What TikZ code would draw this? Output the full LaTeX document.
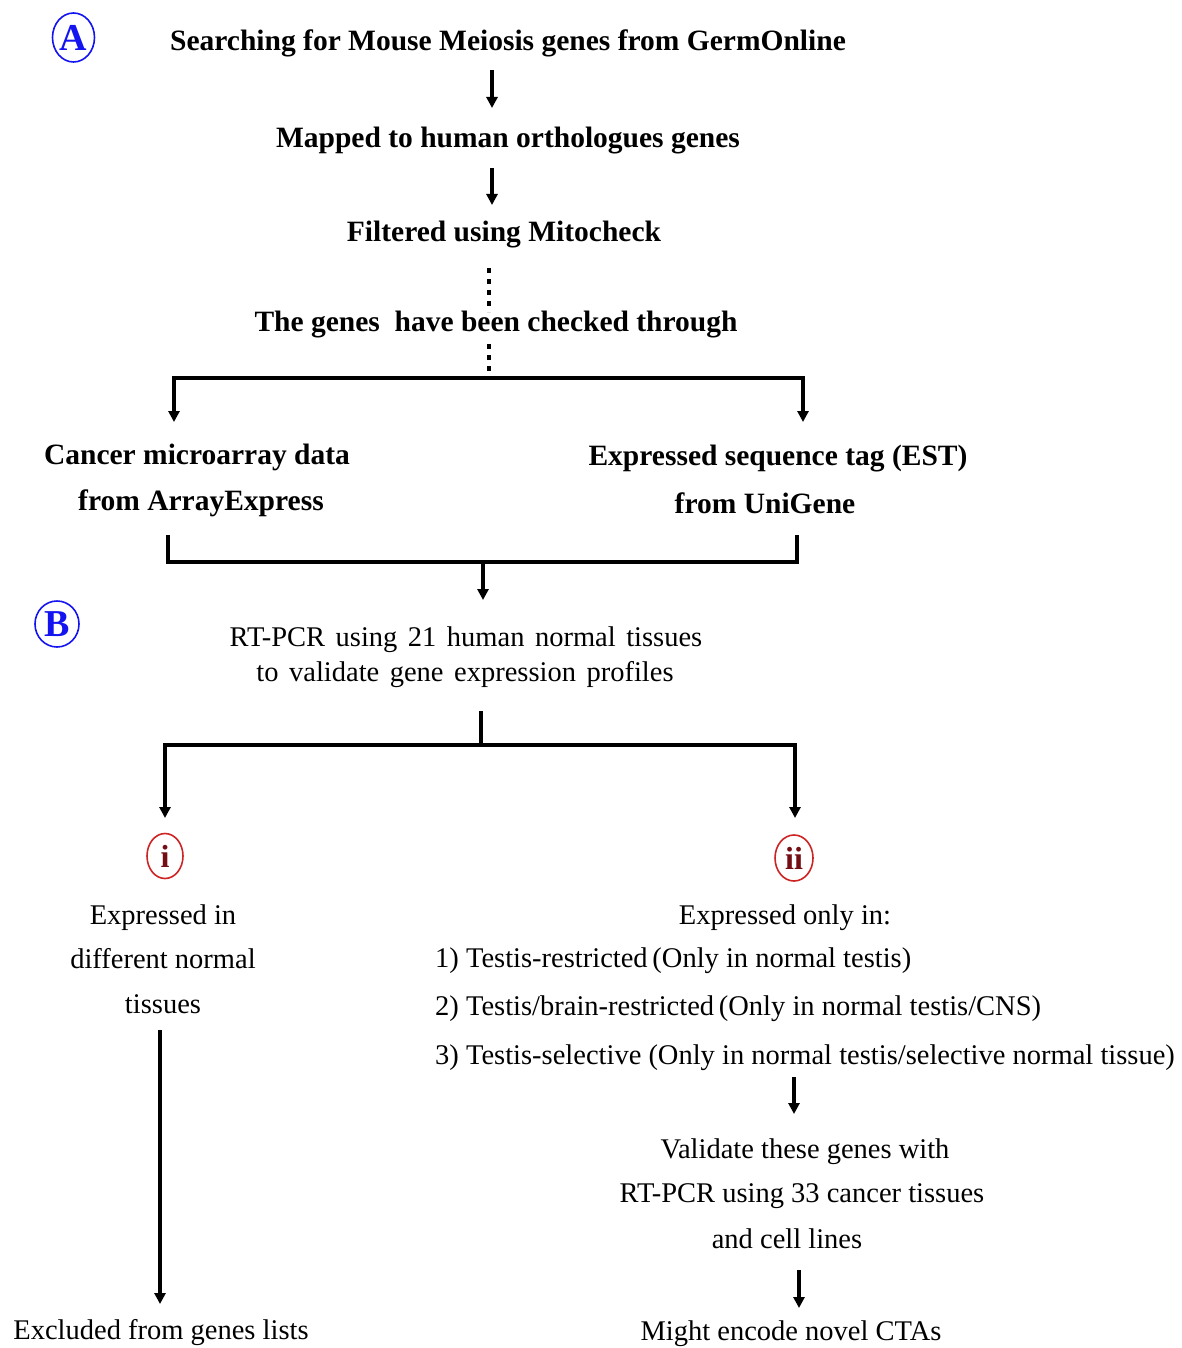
\documentclass[tikz,border=0pt]{standalone}
\usepackage{fontspec}
\setmainfont{Liberation Serif}
\usetikzlibrary{arrows.meta,shapes.geometric}
\definecolor{markblue}{RGB}{20,20,240}
\definecolor{markred}{RGB}{205,35,35}
\definecolor{markdark}{RGB}{115,15,20}
\newcommand{\widewords}{\spaceskip=10.5pt\relax}
\tikzset{
  bt/.style={font=\fontsize{29.5}{34}\selectfont\bfseries, inner sep=0pt, anchor=base},
  rt/.style={font=\fontsize{28.5}{34}\selectfont, inner sep=0pt, anchor=base},
  arr/.style={line width=3.3pt, -{Triangle[length=11pt,width=11pt]}},
  brk/.style={line width=4pt},
  dots/.style={line width=3.6pt, dash pattern=on 5pt off 6pt},
  letterA/.style={draw=markblue, line width=1.6pt, ellipse, text=markblue, font=\fontsize{38}{38}\selectfont\bfseries, inner sep=0pt, minimum width=42pt, minimum height=49pt},
  letteri/.style={draw=markred, line width=1.6pt, ellipse, text=markdark, font=\fontsize{32}{32}\selectfont\bfseries, inner sep=0pt, minimum width=36pt, minimum height=45pt},
}
\begin{document}
\begin{tikzpicture}[x=1pt,y=-1pt]
\useasboundingbox (0,0) rectangle (1182,1348);

% ---- Part A: selection of candidate genes ----
\node[letterA] (markA) at (73.5,37.5) {A};
\node[bt] (s1) at (508,51) {Searching for Mouse Meiosis genes from GermOnline};
\node[bt] (s2) at (508,148) {Mapped to human orthologues genes};
\node[bt] (s3) at (504,242) {Filtered using Mitocheck};
\node[bt] (s4) at (496,331) {The genes\ \ have been checked through};
\node[bt] (c1) at (197,464) {Cancer microarray data};
\node[bt] (c2) at (201,510) {from ArrayExpress};
\node[bt] (e1) at (778,465) {Expressed sequence tag (EST)};
\node[bt] (e2) at (765,513) {from UniGene};

\coordinate (a1s) at (492,70);  \coordinate (a1e) at (492,108);
\coordinate (a2s) at (492,168); \coordinate (a2e) at (492,205);
\draw[arr] (a1s) -- (a1e);
\draw[arr] (a2s) -- (a2e);

\coordinate (d1s) at (489,268); \coordinate (d1e) at (489,312);
\coordinate (d2s) at (489,344); \coordinate (d2e) at (489,378);
\draw[dots] (d1s) -- (d1e);
\draw[dots] (d2s) -- (d2e);

\coordinate (bl) at (174,378); \coordinate (br) at (803,378);
\coordinate (blt) at (174,422); \coordinate (brt) at (803,422);
\draw[brk] ([xshift=-1.65pt]bl) -- ([xshift=1.65pt]br);
\draw[arr] ([yshift=-2pt]bl) -- (blt);
\draw[arr] ([yshift=-2pt]br) -- (brt);

\coordinate (ul) at (168,535); \coordinate (ur) at (797,535);
\coordinate (ulb) at (168,562); \coordinate (urb) at (797,562);
\coordinate (um) at (483,562); \coordinate (umt) at (483,600);
\draw[brk, line join=miter] (ul) -- (ulb) -- (urb) -- (ur);
\draw[arr] (um) -- (umt);

% ---- Part B: experimental validation ----
\node[letterA, minimum width=44pt, minimum height=46pt] (markB) at (57,624) {B};
\node[rt] (r1) at (466,646) {\widewords RT-PCR using 21 human normal tissues};
\node[rt] (r2) at (465,681) {\widewords to validate gene expression profiles};

\coordinate (vt) at (481,711); \coordinate (vb) at (481,745);
\coordinate (hl) at (165,745); \coordinate (hr) at (795,745);
\coordinate (hlt) at (165,818); \coordinate (hrt) at (795,818);
\draw[brk] (vt) -- (vb);
\draw[brk] ([xshift=-1.65pt]hl) -- ([xshift=1.65pt]hr);
\draw[arr] ([yshift=-2pt]hl) -- (hlt);
\draw[arr] ([yshift=-2pt]hr) -- (hrt);

\node[letteri] (mi) at (165,856) {i};
\node[letteri, minimum width=38pt, minimum height=46pt] (mii) at (794,858) {ii};

\node[rt] (l1) at (163,924) {Expressed in};
\node[rt] (l2) at (163,968) {different normal};
\node[rt] (l3) at (163,1013) {tissues};
\coordinate (la) at (160,1030); \coordinate (lb) at (160,1304);
\draw[arr] (la) -- (lb);
\node[rt] (ex) at (161,1339) {Excluded from genes lists};

\node[rt] (o0) at (785,924) {Expressed only in:};
\node[rt, anchor=base west] (o1) at (435,967) {1) Testis-restricted\,(Only in normal testis)};
\node[rt, anchor=base west] (o2) at (435,1015) {2) Testis/brain-restricted\,(Only in normal testis/CNS)};
\node[rt, anchor=base west] (o3) at (435,1064) {3) Testis-selective (Only in normal testis/selective normal tissue)};

\coordinate (ra) at (794,1077); \coordinate (rb) at (794,1114);
\draw[arr] (ra) -- (rb);
\node[rt] (v1) at (805,1158) {Validate these genes with};
\node[rt] (v2) at (802,1202) {RT-PCR using 33 cancer tissues};
\node[rt] (v3) at (787,1248) {and cell lines};
\coordinate (rc) at (799,1270); \coordinate (rd) at (799,1308);
\draw[arr] (rc) -- (rd);
\node[rt] (fin) at (791,1340) {Might encode novel CTAs};
\end{tikzpicture}
\end{document}
